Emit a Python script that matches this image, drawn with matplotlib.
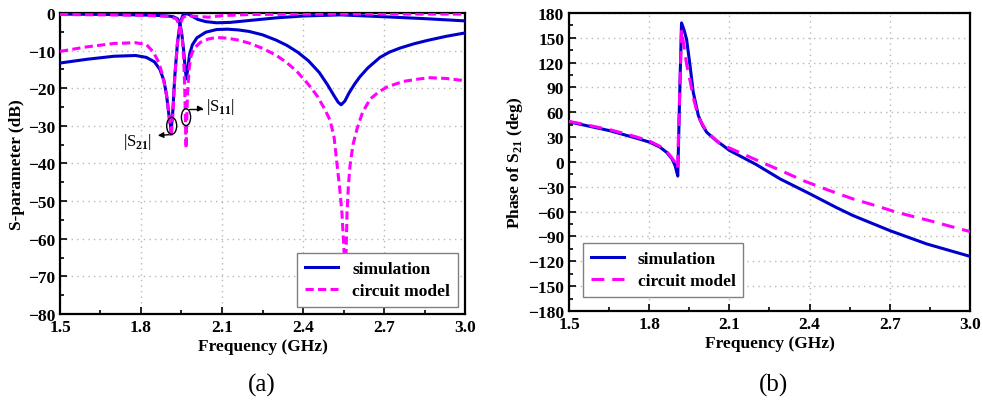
import matplotlib
matplotlib.use("Agg")
import matplotlib.pyplot as plt
from matplotlib.ticker import MultipleLocator
from matplotlib.patches import Ellipse

# ---------------- data: panel (a) ----------------
f_s21_sim = [1.5, 1.6, 1.7, 1.78, 1.82, 1.85, 1.87, 1.885, 1.895, 1.905, 1.912, 1.918, 1.925,
             1.935, 1.945, 1.955, 1.965, 1.975, 1.99, 2.01, 2.04, 2.08, 2.13, 2.2, 2.3, 2.4,
             2.54, 2.7, 2.85, 3.0]
s21_sim = [-13.3, -12.3, -11.5, -11.3, -11.8, -13.0, -15.0, -18.0, -22.0, -28.0, -31.0, -26.0, -17.0,
           -8.0, -2.5, -0.6, -0.2, -0.3, -0.9, -1.7, -2.3, -2.6, -2.5, -2.0, -1.3, -0.8,
           -0.5, -1.0, -1.5, -2.1]

f_s11_sim = [1.5, 1.7, 1.85, 1.9, 1.92, 1.935, 1.945, 1.952, 1.958, 1.964, 1.968, 1.973, 1.98,
             1.99, 2.007, 2.04, 2.08, 2.12, 2.16, 2.2, 2.25, 2.3, 2.34, 2.38, 2.42, 2.46, 2.49,
             2.515, 2.53, 2.541, 2.555, 2.57, 2.59, 2.61, 2.64, 2.685, 2.72, 2.76, 2.81, 2.86,
             2.93, 3.0]
s11_sim = [-0.3, -0.4, -0.6, -0.8, -1.0, -1.5, -3.0, -6.0, -10.0, -15.0, -17.5, -15.0, -11.0,
           -8.5, -6.6, -5.1, -4.4, -4.3, -4.5, -4.9, -5.8, -7.2, -8.6, -10.4, -12.7, -15.8, -19.0,
           -22.0, -23.7, -24.4, -23.4, -21.3, -19.0, -17.0, -14.6, -11.8, -10.4, -9.3, -8.2, -7.3,
           -6.2, -5.3]

f_s21_cm = [1.5, 1.6, 1.7, 1.78, 1.82, 1.845, 1.865, 1.88, 1.895, 1.905, 1.912, 1.918, 1.925,
            1.935, 1.945, 1.955, 1.97, 2.0, 2.05, 2.1, 2.2, 2.4, 2.6, 3.0]
s21_cm = [-10.2, -9.0, -8.1, -7.9, -8.4, -10.3, -13.0, -16.5, -22.0, -28.0, -33.0, -27.0, -17.0,
          -8.0, -3.0, -1.2, -0.7, -0.9, -1.1, -0.7, -0.4, -0.3, -0.25, -0.3]

f_s11_cm = [1.5, 1.8, 1.9, 1.93, 1.945, 1.953, 1.958, 1.962, 1.965, 1.967, 1.969, 1.972, 1.978,
            1.985, 1.995, 2.02, 2.05, 2.08, 2.12, 2.16, 2.2, 2.25, 2.3, 2.34, 2.377, 2.42, 2.452,
            2.48, 2.5, 2.515, 2.525, 2.535, 2.544, 2.552, 2.556, 2.56, 2.563, 2.568, 2.574, 2.585,
            2.6, 2.62, 2.648, 2.68, 2.71, 2.77, 2.833, 2.87, 2.93, 3.0]
s11_cm = [-0.4, -0.6, -0.9, -1.5, -3.5, -7.0, -12.0, -20.0, -30.0, -36.0, -30.0, -22.0, -15.0,
          -11.5, -9.5, -7.8, -6.9, -6.5, -6.7, -7.2, -8.0, -9.4, -11.2, -13.2, -15.5, -19.0, -22.0,
          -25.5, -28.5, -33.0, -39.6, -46.0, -53.0, -63.5, -72.0, -62.0, -53.0, -46.0, -40.6, -35.0,
          -30.8, -26.5, -22.9, -21.0, -19.7, -18.2, -17.5, -17.2, -17.4, -18.0]

# ---------------- data: panel (b) ----------------
f_ph_sim = [1.5, 1.55, 1.6, 1.653, 1.7, 1.75, 1.803, 1.84, 1.865, 1.885, 1.897, 1.907, 1.914,
            1.921, 1.93, 1.94, 1.953, 1.965, 1.984, 2.0, 2.015, 2.05, 2.077, 2.1, 2.2, 2.29,
            2.402, 2.5, 2.563, 2.701, 2.838, 3.0]
ph_sim = [48.5, 45.0, 41.5, 37.8, 33.5, 29.0, 23.8, 18.0, 11.7, 4.0, -4.4, -17.0, 80.0,
          168.0, 160.0, 148.0, 116.0, 84.0, 56.0, 44.0, 36.0, 26.0, 19.7, 14.0, -3.0, -20.5,
          -38.6, -55.0, -64.8, -83.0, -99.0, -114.0]

f_ph_cm = [1.5, 1.55, 1.6, 1.653, 1.7, 1.75, 1.803, 1.84, 1.865, 1.885, 1.9, 1.906, 1.914,
           1.921, 1.93, 1.94, 1.953, 1.965, 1.984, 2.015, 2.065, 2.1, 2.19, 2.29, 2.377, 2.47,
           2.563, 2.65, 2.726, 2.85, 2.964, 3.0]
ph_cm = [49.0, 46.0, 42.5, 39.0, 35.0, 30.5, 25.0, 19.0, 13.0, 5.0, -2.0, -8.0, 80.0,
         160.0, 140.0, 118.0, 98.0, 78.0, 54.0, 37.0, 22.0, 17.0, 4.0, -10.0, -22.6, -34.0,
         -44.7, -53.0, -60.8, -71.0, -81.0, -84.0]

legend_labels = ["simulation", "circuit model"]
xticks = [1.5, 1.8, 2.1, 2.4, 2.7, 3.0]

# annotation anchors (panel a)
s21_circle = (1.9137, -30.0)
s11_circle = (1.9667, -27.7)
s21_text = (1.787, -34.0)
s11_text = (2.096, -24.7)

# ---------------- style ----------------
plt.rcParams['font.family'] = ['Liberation Serif', 'DejaVu Serif']
plt.rcParams['font.weight'] = 'bold'
plt.rcParams['mathtext.fontset'] = 'custom'
plt.rcParams['mathtext.rm'] = 'Liberation Serif'
plt.rcParams['mathtext.bf'] = 'Liberation Serif:bold'

BLUE = '#0000CC'
MAG = '#FF00FF'
FS = 12.5

fig = plt.figure(figsize=(9.83, 4.02), dpi=100)
ax1 = fig.add_axes([0.0610, 0.2164, 0.4121, 0.7488])
ax2 = fig.add_axes([0.5788, 0.2239, 0.4080, 0.7413])


def style_axes(ax, ymaj, ymin):
    ax.set_xlim(1.5, 3.0)
    ax.set_xticks(xticks)
    ax.xaxis.set_minor_locator(MultipleLocator(0.15))
    ax.yaxis.set_major_locator(MultipleLocator(ymaj))
    ax.yaxis.set_minor_locator(MultipleLocator(ymin))
    ax.tick_params(which='both', direction='in', top=False, right=False,
                   labelsize=FS, width=1.2)
    ax.tick_params(which='major', length=5)
    ax.tick_params(which='minor', length=3)
    ax.xaxis.set_major_formatter(matplotlib.ticker.FormatStrFormatter('%.1f'))
    for lab in ax.get_xticklabels() + ax.get_yticklabels():
        lab.set_fontweight('bold')
    ax.grid(True, which='major', color='#b8b8b8', linestyle=(0, (1, 3)), linewidth=1.0)
    ax.set_axisbelow(True)
    for sp in ax.spines.values():
        sp.set_linewidth(1.6)
    ax.set_xlabel('Frequency (GHz)', fontsize=FS, fontweight='bold', labelpad=2)


def make_legend(ax, loc, pad):
    leg = ax.legend(loc=loc, fontsize=FS, frameon=True, fancybox=False,
                    edgecolor='#808080', framealpha=1, handlelength=1.9,
                    borderaxespad=pad, labelspacing=0.35, borderpad=0.45)
    leg.get_frame().set_linewidth(1.0)
    leg.set_zorder(10)
    for t in leg.get_texts():
        t.set_fontweight('bold')
    return leg


# ---- panel (a)
lw = 2.2
dash_a = (0, (2.7, 1.4))
ax1.plot(f_s21_sim, s21_sim, color=BLUE, lw=lw, label=legend_labels[0], zorder=3)
ax1.plot(f_s11_sim, s11_sim, color=BLUE, lw=lw, zorder=3)
ax1.plot(f_s21_cm, s21_cm, color=MAG, lw=lw, linestyle=dash_a, label=legend_labels[1], zorder=4)
ax1.plot(f_s11_cm, s11_cm, color=MAG, lw=lw, linestyle=dash_a, zorder=4)
ax1.set_ylim(-80, 0)
style_axes(ax1, 10, 5)
ax1.set_ylabel('S-parameter (dB)', fontsize=FS, fontweight='bold', labelpad=2)

ax1.add_patch(Ellipse(s21_circle, 0.037, 4.5, fill=False, edgecolor='black', lw=1.0, zorder=5))
ax1.add_patch(Ellipse(s11_circle, 0.034, 4.5, fill=False, edgecolor='black', lw=1.0, zorder=5))
ax1.annotate('', xy=(1.852, s21_circle[1] - 2.6), xytext=(s21_circle[0], s21_circle[1] - 2.3),
             arrowprops=dict(arrowstyle='-|>', color='black', lw=1.0, mutation_scale=8), zorder=5)
ax1.annotate('', xy=(2.035, s11_text[1]), xytext=(s11_circle[0], s11_circle[1] + 2.3),
             arrowprops=dict(arrowstyle='-|>', color='black', lw=1.0, mutation_scale=8,
                             connectionstyle='angle,angleA=0,angleB=90,rad=0'), zorder=5)
ax1.text(s21_text[0], s21_text[1], r'|S$_{\mathrm{21}}$|', fontsize=12, fontweight='normal',
         ha='center', va='center')
ax1.text(s11_text[0], s11_text[1], r'|S$_{\mathrm{11}}$|', fontsize=12, fontweight='normal',
         ha='center', va='center')

make_legend(ax1, 'lower right', 0.42)

# ---- panel (b)
dash_b = (0, (4.2, 2.6))
ax2.plot(f_ph_sim, ph_sim, color=BLUE, lw=lw, label=legend_labels[0], zorder=3)
ax2.plot(f_ph_cm, ph_cm, color=MAG, lw=lw, linestyle=dash_b, label=legend_labels[1], zorder=4)
ax2.set_ylim(-180, 180)
style_axes(ax2, 30, 15)
ax2.set_ylabel(r'Phase of S$_\mathbf{21}$ (deg)', fontsize=FS, fontweight='bold', labelpad=2)

make_legend(ax2, 'lower left', 0.8)

fig.text(262 / 983, 1 - 385 / 402, '(a)', fontsize=18, fontweight='normal', ha='center', va='center')
fig.text(773 / 983, 1 - 385 / 402, '(b)', fontsize=18, fontweight='normal', ha='center', va='center')

fig.savefig('out.png', dpi=100)
